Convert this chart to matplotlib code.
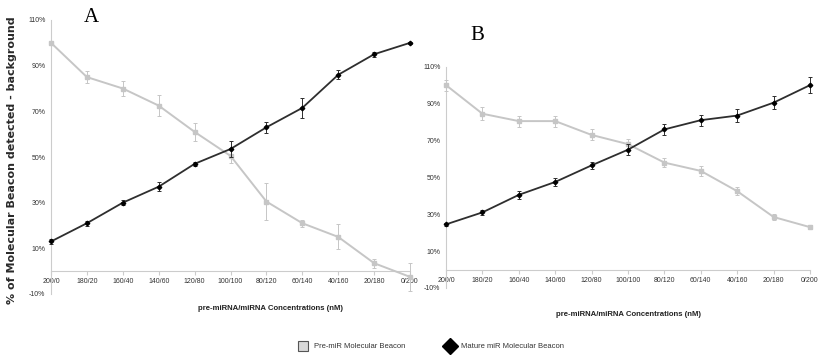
import matplotlib
matplotlib.use("Agg")
import matplotlib.pyplot as plt
from matplotlib.lines import Line2D
from matplotlib import font_manager as fm

names = {f.name for f in fm.fontManager.ttflist}
NARROW = 'Liberation Sans Narrow' if 'Liberation Sans Narrow' in names else 'Liberation Sans'

categories = ["200/0", "180/20", "160/40", "140/60", "120/80", "100/100",
              "80/120", "60/140", "40/160", "20/180", "0/200"]
yticks = [-10, 10, 30, 50, 70, 90, 110]
ytick_labels = ["-10%", "10%", "30%", "50%", "70%", "90%", "110%"]

# Panel A
pre_A = [100, 85, 80, 72.5, 61, 50.5, 30.5, 21, 15, 3.5, -2.5]
pre_A_err = [0, 2.5, 3.5, 4.5, 4, 3, 8, 1.5, 5.5, 2, 6]
mat_A = [13, 21, 30, 37, 47, 53.5, 63, 71.5, 86, 95, 100]
mat_A_err = [1, 1, 1, 2, 1, 3.5, 2.5, 4.5, 2, 1, 0.5]

# Panel B
pre_B = [100, 84.5, 80.5, 80.5, 73, 68, 58, 53.5, 42.5, 28.5, 23]
pre_B_err = [3, 3.5, 3, 3, 3, 3, 2.5, 2.5, 2, 1.5, 1]
mat_B = [24.5, 31, 40.5, 47.5, 56.5, 65, 76, 81, 83.5, 90.5, 100]
mat_B_err = [1, 1.5, 2, 2, 2, 3, 3, 3, 3.5, 3.5, 4.5]

PRE_C = '#c6c6c6'
MAT_C = '#2e2e2e'
AX_C = '#cccccc'
TXT_C = '#333333'

fig = plt.figure(figsize=(8.24, 3.6), dpi=100)
fig.patch.set_facecolor('white')

def panel(rect, pre, pre_err, mat, mat_err):
    ax = fig.add_axes(rect)
    x = list(range(len(categories)))
    ax.errorbar(x, pre, yerr=pre_err, color=PRE_C, lw=1.4, marker='s', ms=2.5,
                mfc=PRE_C, mec=PRE_C, elinewidth=0.7, capsize=1.2, capthick=0.7,
                clip_on=False, zorder=3)
    ax.errorbar(x, mat, yerr=mat_err, color=MAT_C, lw=1.3, marker='D', ms=2.3,
                mfc='black', mec='black', elinewidth=0.7, capsize=1.2, capthick=0.7,
                clip_on=False, zorder=4)
    ax.set_xlim(0, len(categories) - 1)
    ax.set_ylim(-10, 110)
    for s in ['top', 'right']:
        ax.spines[s].set_visible(False)
    ax.spines['bottom'].set_position(('data', 0))
    ax.spines['left'].set_position(('data', 0))
    ax.spines['bottom'].set_color(AX_C)
    ax.spines['left'].set_color(AX_C)
    ax.spines['bottom'].set_linewidth(0.8)
    ax.spines['left'].set_linewidth(0.8)
    ax.set_xticks(x)
    ax.set_xticklabels(categories, fontsize=5, family=NARROW, color=TXT_C)
    ax.set_yticks(yticks)
    ax.set_yticklabels(ytick_labels, fontsize=5, family=NARROW, color=TXT_C)
    ax.tick_params(axis='x', length=3, color=AX_C, pad=2)
    ax.tick_params(axis='y', length=0, pad=4)
    ax.set_facecolor('none')
    return ax

axA = panel([51/824, 1-294/360, 359/824, 274/360], pre_A, pre_A_err, mat_A, mat_A_err)
axB = panel([446/824, 1-288/360, 364/824, 221.3/360], pre_B, pre_B_err, mat_B, mat_B_err)

fig.text(271/824, 1-308/360, "pre-miRNA/miRNA Concentrations (nM)", ha='center', va='center',
         fontsize=5.6, fontweight='bold', family=NARROW, color='#222222')
fig.text(628/824, 1-315/360, "pre-miRNA/miRNA Concentrations (nM)", ha='center', va='center',
         fontsize=5.6, fontweight='bold', family=NARROW, color='#222222')
fig.text(12/824, 1-160/360, "% of Molecular Beacon detected - background", rotation=90,
         ha='center', va='center', fontsize=8, fontweight='bold', family='DejaVu Sans',
         color='#2a2a2a')
fig.text(91/824, 1-18/360, "A", ha='center', va='center', fontsize=15, family='Liberation Serif')
fig.text(477/824, 1-35/360, "B", ha='center', va='center', fontsize=15, family='Liberation Serif')

# legend (drawn in figure coordinates)
fig.add_artist(Line2D([303/824], [1-346/360], transform=fig.transFigure, ls='none',
                      marker='s', ms=7, mfc='#d9d9d9', mec='#555555', mew=0.8))
fig.text(314/824, 1-346/360, "Pre-miR Molecular Beacon", ha='left', va='center',
         fontsize=5.5, family=NARROW, color=TXT_C)
fig.add_artist(Line2D([450/824], [1-346/360], transform=fig.transFigure, ls='none',
                      marker='D', ms=8, mfc='black', mec='black'))
fig.text(461/824, 1-346/360, "Mature miR Molecular Beacon", ha='left', va='center',
         fontsize=5.5, family=NARROW, color=TXT_C)

fig.savefig("out.png", dpi=100, facecolor='white')
